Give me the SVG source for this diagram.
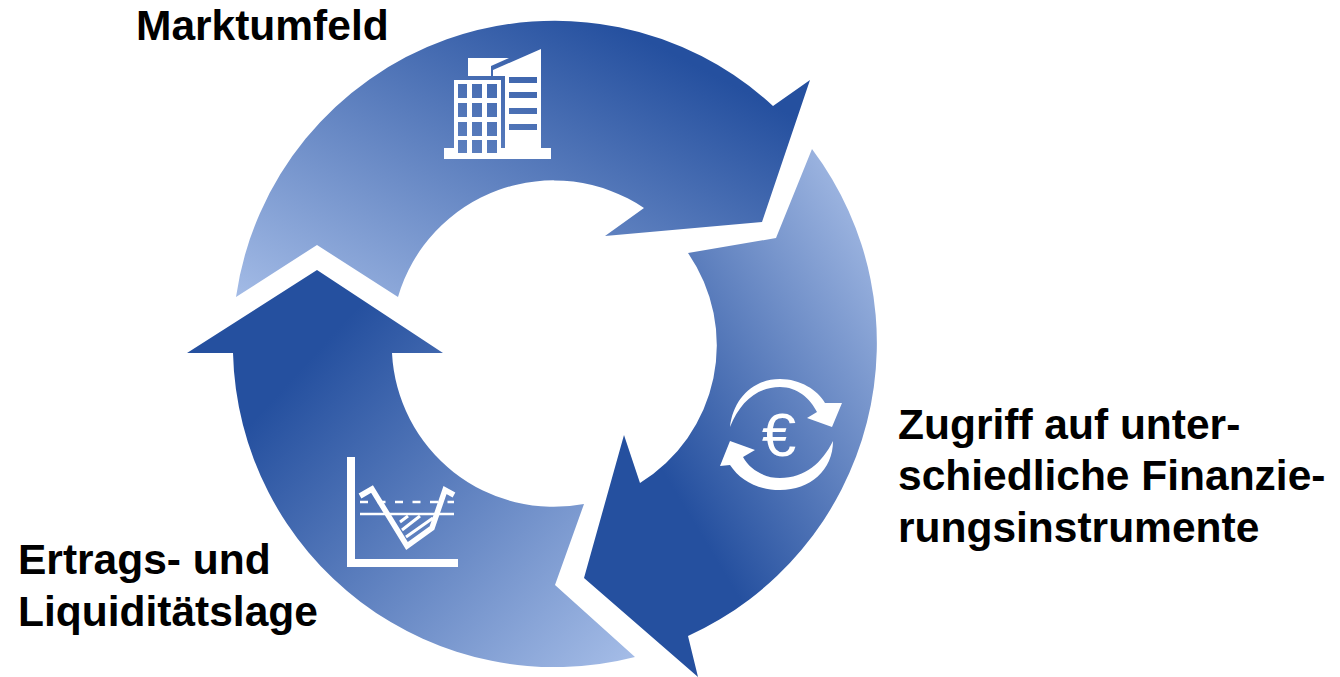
<svg xmlns="http://www.w3.org/2000/svg" width="1340" height="677" viewBox="0 0 1340 677">
<style>
.t{font-family:"Liberation Sans",Arial,sans-serif;font-weight:bold;font-size:42.5px;fill:#000}
.w{fill:#fff}
.l{fill:none;stroke:#fff}
</style>
<defs>
<linearGradient id="g1" gradientUnits="userSpaceOnUse" x1="240" y1="300" x2="432" y2="-71"><stop offset="0" stop-color="#a3bbe6"/><stop offset="1" stop-color="#25509f"/></linearGradient>
<linearGradient id="g2" gradientUnits="userSpaceOnUse" x1="938" y1="345" x2="680" y2="500"><stop offset="0" stop-color="#9cb4e0"/><stop offset="1" stop-color="#25509f"/></linearGradient>
<linearGradient id="g3" gradientUnits="userSpaceOnUse" x1="300" y1="370" x2="620" y2="665"><stop offset="0" stop-color="#25509f"/><stop offset="1" stop-color="#a3bbe6"/></linearGradient>
</defs>
<rect width="1340" height="677" fill="#fff"/>
<g id="connectors"></g>
<g id="segment-market"><path fill="url(#g1)" d="M236 297A322 322 0 0 1 773 106L810 80L762 222L605 236L644 208A162 162 0 0 0 398 297L317 245Z"/></g>
<g id="segment-finance"><path fill="url(#g2)" d="M812 149A322 322 0 0 1 688 636L698 677L584 578L624 435L640 483A162 162 0 0 0 688 253L776 238Z"/></g>
<g id="segment-earnings"><path fill="url(#g3)" d="M635 657A322 322 0 0 1 233 353L187 353L317 270L443 353L392 353A162 162 0 0 0 584 504L555 585Z"/></g>
<g id="icon-building">
<path class="w" fill-rule="evenodd" d="M444 148H454V80H501V148H505V76H493V70L541 49V148H551V159H444ZM458 84V98H467V84ZM472 84V98H482V84ZM487 84V98H497V84ZM458 103V117H467V103ZM472 103V117H482V103ZM487 103V117H497V103ZM458 122V136H467V122ZM472 122V136H482V122ZM487 122V136H497V122ZM458 140V153H467V140ZM472 140V153H482V140ZM487 140V153H497V140ZM509 77V83H537V77ZM509 92V98H537V92ZM509 108V114H537V108ZM509 124V130H537V124Z"/>
<path class="w" d="M468 58H509L491 66V76H468Z"/>
</g>
<g id="icon-euro">
<path class="w" d="M730 427C733 400 752 379 780 379C800 379 818 390 825 403L842 403L832 427L807 418L817 412C810 398 797 387 780 387C757 387 740 402 730 427Z"/>
<path class="w" d="M833 441C833 470 810 490 780 490C757 490 740 480 730 465L720 466L730 441L755 450L743 457C750 470 765 478 780 478C805 478 822 463 833 441Z"/>
<text x="779" y="456" text-anchor="middle" style="font-family:'Liberation Sans',Arial,sans-serif;font-size:62px;fill:#fff">€</text>
</g>
<g id="icon-chart">
<path class="w" d="M347 457H355V559H458V567H347Z"/>
<path class="l" stroke-width="5.5" d="M360 496L372 489L407 546L432 528L445 490L454 495"/>
<path class="l" stroke-width="2.7" stroke-dasharray="8 9.5" d="M360 502H454"/>
<path class="l" stroke-width="2.5" d="M360 514H454"/>
<path class="l" stroke-width="3" d="M400 522L408 516M402 530L420 516M406 537L433 518"/>
</g>
<g id="label-market"><text class="t" x="136" y="40">Marktumfeld</text></g>
<g id="label-finance"><text class="t" x="898" y="439">Zugriff auf unter-</text><text class="t" x="898" y="490">schiedliche Finanzie-</text><text class="t" x="898" y="542">rungsinstrumente</text></g>
<g id="label-earnings"><text class="t" x="18" y="574">Ertrags- und</text><text class="t" x="18" y="626">Liquiditätslage</text></g>
</svg>
